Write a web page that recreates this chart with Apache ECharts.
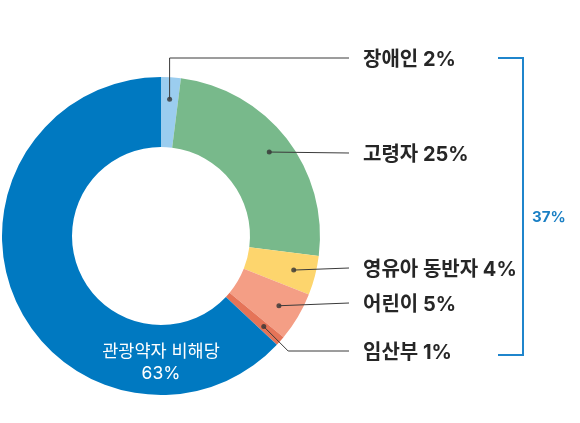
<!DOCTYPE html>
<html><head><meta charset="utf-8">
<script src="https://cdn.jsdelivr.net/npm/echarts@6/dist/echarts.min.js"></script>
<style>html,body{margin:0;padding:0;background:#fff}#c{width:580px;height:423px}</style>
</head><body><div id="c"></div>
<script>
const categories = ['장애인','고령자','영유아 동반자','어린이','임산부','관광약자 비해당'];
const values = [2,25,4,5,1,63];
const colors = ['#9BCDEF','#78B98B','#FDD56D','#F49E85','#E57458','#0079C1'];
const groupCount = 5; // first five categories are bracketed

const CX=161, CY=236, R=159, R0=89, DOT_R=137;
const FONT = 'Inter, "Noto Sans CJK KR", "Noto Sans", sans-serif';
const labelX = 363;
const labelY = [60,155,270,305,353];
const lineEndX = 349;

const total = values.reduce((a,b)=>a+b,0);
function cumMid(i){ let s=0; for(let k=0;k<i;k++) s+=values[k]; return s+values[i]/2; }
function dotPos(i){ const a=cumMid(i)/total*2*Math.PI; return [CX+DOT_R*Math.sin(a), CY-DOT_R*Math.cos(a)]; }
const groupSum = values.slice(0,groupCount).reduce((a,b)=>a+b,0);

const chart = echarts.init(document.getElementById('c'));
const pieData = categories.map((n,i)=>{
  const item = {name:n, value:values[i], itemStyle:{color:colors[i]}};
  if(i>=groupCount){
    item.label = {show:true, position:'inside', formatter:'{b}\n{c}%', color:'#fff', fontSize:17.5, lineHeight:22, fontFamily:FONT, fontWeight:400};
  }
  return item;
});
const dotData = categories.slice(0,groupCount).map((n,i)=>[DOT_R, cumMid(i)]);

const leaderLines = categories.slice(0,groupCount).map((n,i)=>{
  const d=dotPos(i);
  const ly=labelY[i]-2;
  let pts;
  if(i===0) pts=[d,[d[0],ly],[lineEndX,ly]];
  else if(i===groupCount-1) pts=[d,[d[0]+(ly-d[1]),ly],[lineEndX,ly]];
  else pts=[d,[lineEndX,ly]];
  return {type:'polyline', z:20, shape:{points:pts}, style:{stroke:'#3a3a3a', lineWidth:1, fill:null}, silent:true};
});

chart.setOption({
  animation:false,
  polar:{center:[CX,CY], radius:R},
  angleAxis:{type:'value', min:0, max:total, startAngle:90, clockwise:true, show:false},
  radiusAxis:{type:'value', min:0, max:R, show:false},
  series:[
    {
      type:'pie', center:[CX,CY], radius:[R0,R], startAngle:90, clockwise:true,
      avoidLabelOverlap:false, emphasis:{disabled:true},
      data:pieData,
      label:{show:true, position:'outside', formatter:'{b} {c}%', fontSize:20, fontWeight:'bold', color:'#262626', fontFamily:FONT},
      labelLine:{show:false},
      labelLayout:function(p){
        const i=p.dataIndex;
        if(i>=groupCount){
          return {x:CX, y:363, align:'center', verticalAlign:'middle'};
        }
        return {x:labelX, y:labelY[i], align:'left', verticalAlign:'middle'};
      }
    },
    {
      type:'scatter', coordinateSystem:'polar', data:dotData, symbol:'circle', symbolSize:5,
      itemStyle:{color:'#333'}, z:10, silent:true
    }
  ],
  graphic:leaderLines.concat([
    {type:'polyline', shape:{points:[[498,58],[523,58],[523,355],[498,355]]}, style:{stroke:'#1F85CC', lineWidth:2, fill:null}},
    {type:'text', x:532, y:217, style:{text:groupSum+'%', fill:'#1A7FC4', font:'bold 15px '+FONT, textVerticalAlign:'middle'}}
  ])
});
</script></body></html>
